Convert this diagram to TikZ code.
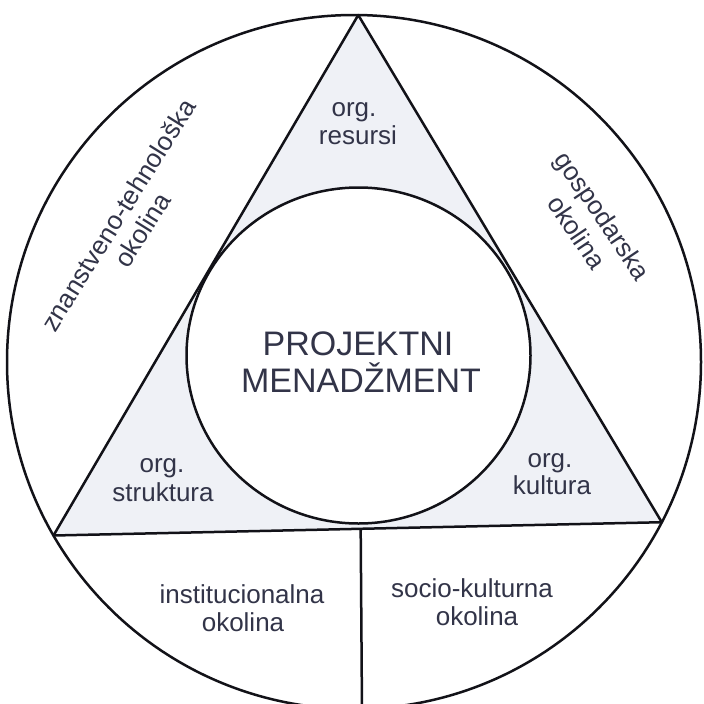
\documentclass[tikz,border=0pt]{standalone}
\usepackage{fontspec}
\setmainfont{Liberation Sans}
\usetikzlibrary{calc}
\definecolor{txt}{RGB}{50,52,72}
\definecolor{trifill}{RGB}{239,241,246}
\definecolor{ink}{RGB}{18,18,24}
\begin{document}
\begin{tikzpicture}[x=1pt,y=-1pt,
  line width=2.5pt, line join=round,
  lbl/.style={font=\fontsize{26}{28}\selectfont, text=txt, anchor=base, inner sep=0pt},
  big/.style={font=\fontsize{34}{37}\selectfont, text=txt, anchor=base, inner sep=0pt},
  rot/.style={font=\fontsize{26}{28}\selectfont, text=txt, anchor=center, inner sep=0pt}]
\clip (0,0) rectangle (704,704);
\fill[white] (0,0) rectangle (704,704);
% geometry
\coordinate (O) at (354,362);
\coordinate (C) at (358.5,355.5);
\coordinate (apex) at ($(O)+(89.3:347pt)$);
\coordinate (bl) at ($(O)+(210:347pt)$);
\coordinate (br) at ($(O)+(-27.5:347pt)$);
\coordinate (vt) at ($(bl)!0.505!(br)$);
\coordinate (vb) at (362,712);
% shaded triangle, inner circle
\fill[trifill] (apex) -- (bl) -- (br) -- cycle;
\draw[ink, fill=white] (C) ellipse [x radius=172pt, y radius=168pt];
\draw[ink] (apex) -- (bl) -- (br) -- cycle;
\draw[ink] (O) circle [radius=347pt];
\draw[ink] (vt) -- (vb);
% labels
\node[lbl] (res1) at (354,116) {org.};
\node[lbl] (res2) at (358,144) {resursi};
\node[big] (pm1) at (358,355) {PROJEKTNI};
\node[big] (pm2) at (361,392) {MENADŽMENT};
\node[lbl] (str1) at (162,472) {org.};
\node[lbl] (str2) at (163,501) {struktura};
\node[lbl] (kul1) at (550,467) {org.};
\node[lbl] (kul2) at (552,494) {kultura};
\node[lbl] (ins1) at (242,603) {institucionalna};
\node[lbl] (ins2) at (243,631) {okolina};
\node[lbl] (soc1) at (472,597) {socio-kulturna};
\node[lbl] (soc2) at (477,625) {okolina};
\node[rot, rotate=58] (zt1) at (118,215) {znanstveno-tehnološka};
\node[rot, rotate=58] (zt2) at (142,230) {okolina};
\node[rot, rotate=-56] (gos1) at (601,217) {gospodarska};
\node[rot, rotate=-56] (gos2) at (577,232) {okolina};
\end{tikzpicture}
\end{document}
